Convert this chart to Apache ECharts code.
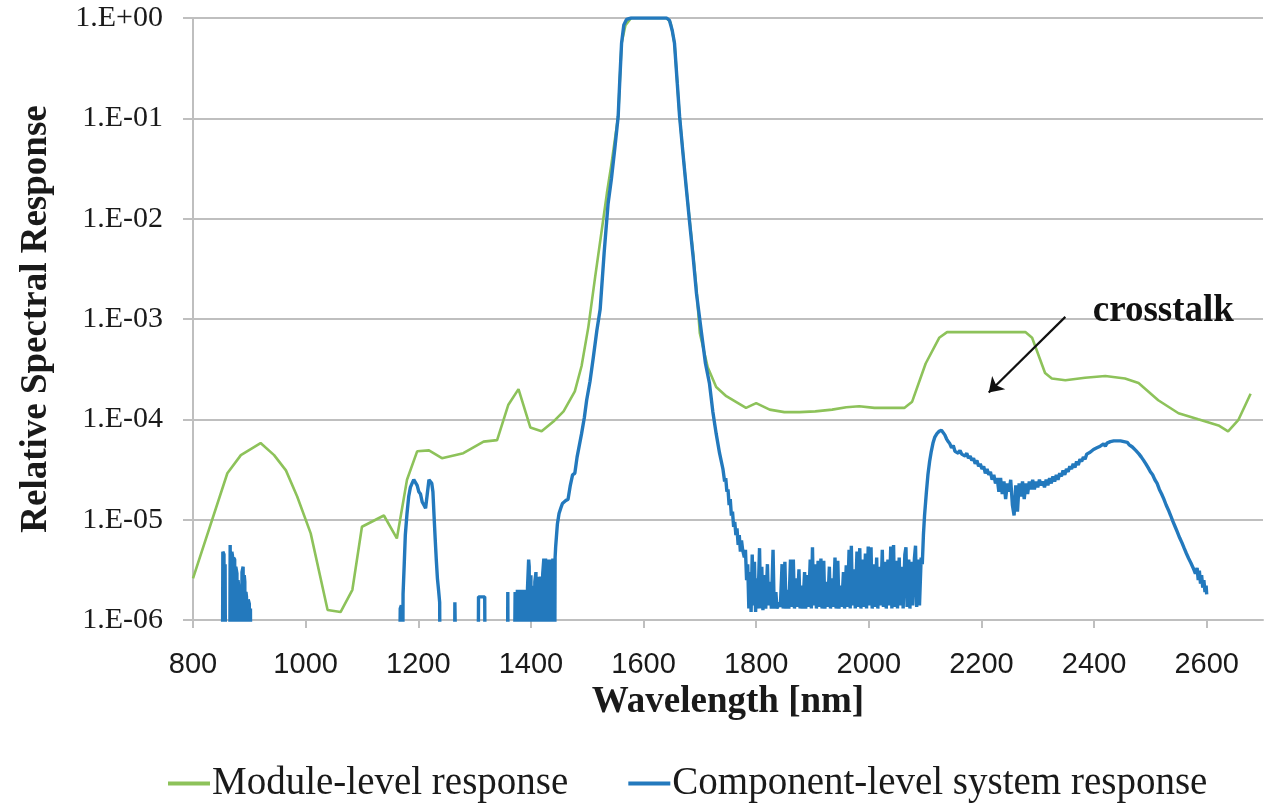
<!DOCTYPE html>
<html>
<head>
<meta charset="utf-8">
<script src="https://cdn.jsdelivr.net/npm/echarts@6/dist/echarts.min.js"></script>
<style>
html,body{margin:0;padding:0;background:#fff;}
#chart{width:1271px;height:808px;}
</style>
</head>
<body>
<div id="chart"></div>
<script>
// ---- data ----
const seriesNames = ['Module-level response', 'Component-level system response'];
const xTicks = [800, 1000, 1200, 1400, 1600, 1800, 2000, 2200, 2400, 2600];
const yTickExponents = [0, -1, -2, -3, -4, -5, -6];

// Module-level response [wavelength nm, relative response]
const moduleLevel = [
[800,2.6e-6],[861,2.9e-5],[885,4.4e-5],[920,5.8e-5],[944,4.4e-5],[965,3.1e-5],[985,1.7e-5],[1009,7.3e-6],
[1039,1.26e-6],[1062,1.2e-6],[1083,2.0e-6],[1100,8.5e-6],[1139,1.1e-5],[1162,6.5e-6],[1180,2.5e-5],[1198,4.8e-5],
[1219,4.9e-5],[1242,4.1e-5],[1280,4.6e-5],[1316,6.0e-5],[1340,6.2e-5],[1360,1.4e-4],[1378,2.0e-4],[1399,8.3e-5],
[1419,7.6e-5],[1440,9.5e-5],[1458,1.2e-4],[1478,1.9e-4],[1490,3.4e-4],[1502,8.3e-4],[1514,2.6e-3],[1526,7.8e-3],
[1535,1.8e-2],[1543,3.5e-2],[1555,1.05e-1],[1561,5.6e-1],[1568,8.5e-1],[1578,1.0],[1641,1.0],[1648,9.0e-1],
[1655,5.6e-1],[1664,1.05e-1],[1676,2.0e-2],[1688,4.5e-3],[1694,2.0e-3],[1700,7.2e-4],[1714,3.3e-4],[1729,2.1e-4],
[1747,1.7e-4],[1782,1.3e-4],[1800,1.45e-4],[1824,1.25e-4],[1850,1.18e-4],[1877,1.18e-4],[1905,1.2e-4],[1935,1.25e-4],
[1960,1.32e-4],[1983,1.35e-4],[2010,1.3e-4],[2040,1.3e-4],[2063,1.3e-4],[2077,1.5e-4],[2101,3.6e-4],[2125,6.5e-4],
[2139,7.4e-4],[2278,7.4e-4],[2290,6.5e-4],[2313,2.9e-4],[2325,2.55e-4],[2349,2.45e-4],[2384,2.6e-4],[2420,2.7e-4],
[2455,2.55e-4],[2479,2.3e-4],[2514,1.55e-4],[2550,1.15e-4],[2585,1.0e-4],[2621,8.7e-5],[2638,7.6e-5],[2656,9.8e-5],
[2678,1.8e-4]
];

// Component-level system response [wavelength nm, relative response]
// values of 1e-7 are below the axis floor (drops to the bottom); null = no data
const componentLevel = [
[852,1e-7],[853,4.8e-6],[855,4.5e-6],[856,1e-7],[857,3.6e-6],[858,1e-7],
[865,1e-7],[866,5.6e-6],[867,5.4e-6],[868,1e-7],[869,4.8e-6],[870,4.4e-6],[871,1e-7],[872,4.2e-6],[874,4.0e-6],
[875,1e-7],[876,3.4e-6],[878,2.9e-6],[879,1e-7],[880,2.5e-6],[881,2.2e-6],[882,1e-7],
[886,1e-7],[887,3.0e-6],[889,3.4e-6],[890,1e-7],[891,2.8e-6],[892,2.4e-6],[893,1e-7],[894,1.9e-6],[895,1.7e-6],
[896,1e-7],[898,1.6e-6],[900,1.45e-6],[901,1e-7],[902,1.3e-6],[903,1e-7],[905,null],
[1166,1e-7],[1168,1.3e-6],[1170,1.4e-6],[1172,1e-7],[1173,1.8e-6],[1175,3.5e-6],[1177,7e-6],[1180,1.15e-5],
[1183,1.7e-5],[1186,2.1e-5],[1189,2.3e-5],[1192,2.5e-5],[1195,2.5e-5],[1198,2.2e-5],[1201,1.9e-5],[1204,1.8e-5],
[1207,1.5e-5],[1210,1.4e-5],[1213,1.3e-5],[1216,1.8e-5],[1219,2.5e-5],[1222,2.5e-5],[1224,2.3e-5],[1226,1.9e-5],
[1228,1.1e-5],[1230,6.5e-6],[1232,4e-6],[1234,2.6e-6],[1236,2.0e-6],[1238,1.5e-6],[1239,1e-7],[1241,null],
[1264,1e-7],[1265,1.5e-6],[1267,1.5e-6],[1268,1e-7],[1269,null],
[1306,1e-7],[1307,1.7e-6],[1318,1.7e-6],[1319,1e-7],[1320,null],
[1358,1e-7],[1359,1.9e-6],[1360,1e-7],[1361,null],
[1370,1e-7],[1372,1.9e-6],[1374,1e-7],[1376,2.0e-6],[1378,2.0e-6],[1379,1e-7],[1381,2.0e-6],[1383,1e-7],
[1385,2.0e-6],[1387,2.0e-6],[1388,1e-7],[1390,2.0e-6],[1392,1e-7],[1394,2.1e-6],[1396,4.0e-6],[1397,3.4e-6],
[1398,1e-7],[1400,2.8e-6],[1401,1e-7],[1403,2.2e-6],[1405,1e-7],[1407,2.4e-6],[1409,3.0e-6],[1410,1e-7],
[1412,2.7e-6],[1414,1e-7],[1416,2.7e-6],[1418,2.5e-6],[1419,1e-7],[1421,2.9e-6],[1423,4.1e-6],[1424,1e-7],
[1426,4.1e-6],[1428,1e-7],[1430,4.0e-6],[1432,4.1e-6],[1433,1e-7],[1435,4.0e-6],[1437,1e-7],[1439,4.1e-6],
[1441,4.0e-6],[1442,1e-7],[1443,4.2e-6],[1444,5.4e-6],[1447,9e-6],[1450,1.15e-5],[1453,1.3e-5],[1456,1.45e-5],
[1459,1.5e-5],[1462,1.55e-5],[1466,1.6e-5],[1470,2.2e-5],[1474,2.8e-5],[1478,2.9e-5],[1482,4.2e-5],[1486,5.5e-5],
[1490,7.2e-5],[1495,1.05e-4],[1499,1.55e-4],[1505,2.4e-4],[1511,4.2e-4],[1517,7.6e-4],[1523,1.25e-3],[1530,4.5e-3],
[1537,1.4e-2],[1543,2.5e-2],[1549,5e-2],[1555,1.05e-1],[1558,2.5e-1],[1561,5.6e-1],[1565,8.5e-1],[1570,9.7e-1],
[1578,1.0],[1641,1.0],[1646,9.5e-1],[1651,7.5e-1],[1655,5.6e-1],[1660,2.2e-1],[1664,1.05e-1],[1670,4.5e-2],
[1676,2.0e-2],[1682,9e-3],[1688,4.2e-3],[1694,1.8e-3],[1703,7.2e-4],[1710,3.6e-4],[1717,2.3e-4],[1723,1.2e-4],
[1729,7.2e-5],[1735,4.6e-5],[1741,3.2e-5],[1744,2.4e-5],[1746,2.6e-5],[1748,1.9e-5],[1750,2.0e-5],[1752,1.4e-5],
[1754,1.6e-5],[1756,1.1e-5],[1758,1.2e-5],[1760,8.5e-6],[1762,9.5e-6],[1764,7.0e-6],[1766,8.2e-6],[1768,5.6e-6],
[1770,7.0e-6],[1772,4.8e-6],[1774,6.2e-6],[1776,5.0e-6],[1779,4.2e-6],[1781,5.0e-6],[1783,2.5e-6],[1785,3.6e-6],
[1787,1.3e-6],[1789,3.0e-6],[1791,1.2e-6],[1793,4.5e-6],[1795,1.4e-6],[1797,3.8e-6],[1799,1.2e-6],[1801,2.6e-6],
[1803,1.3e-6],[1806,5.2e-6],[1808,1.3e-6],[1810,3.4e-6],[1812,1.25e-6],[1815,2.8e-6],[1817,1.3e-6],[1820,3.6e-6],
[1822,1.4e-6],[1825,2.4e-6],[1827,1.3e-6],[1830,5.0e-6],[1832,1.3e-6],[1835,1.9e-6],[1837,1.3e-6],[1840,1.5e-6],
[1843,1.35e-6],[1846,3.6e-6],[1848,1.3e-6],[1851,3.8e-6],[1853,1.3e-6],[1856,2.0e-6],[1858,1.3e-6],[1861,4.0e-6],
[1863,1.35e-6],[1866,4.0e-6],[1868,1.3e-6],[1871,2.6e-6],[1873,1.35e-6],[1876,3.2e-6],[1878,1.3e-6],[1881,2.2e-6],
[1883,1.3e-6],[1886,3.0e-6],[1888,1.3e-6],[1891,2.8e-6],[1893,1.35e-6],[1896,4.0e-6],[1898,1.3e-6],[1900,5.3e-6],
[1902,1.4e-6],[1905,3.6e-6],[1907,1.3e-6],[1910,3.9e-6],[1912,1.35e-6],[1915,4.1e-6],[1917,1.3e-6],[1920,3.9e-6],
[1922,1.3e-6],[1925,2.4e-6],[1927,1.35e-6],[1930,3.4e-6],[1932,1.3e-6],[1935,2.6e-6],[1937,1.35e-6],[1940,4.2e-6],
[1942,1.3e-6],[1945,3.9e-6],[1947,1.3e-6],[1950,2.2e-6],[1952,1.35e-6],[1955,3.0e-6],[1957,1.3e-6],[1960,3.5e-6],
[1962,1.35e-6],[1965,5.0e-6],[1967,1.3e-6],[1969,5.5e-6],[1971,1.4e-6],[1974,3.2e-6],[1976,1.3e-6],[1979,4.8e-6],
[1981,1.35e-6],[1984,5.2e-6],[1986,1.3e-6],[1989,4.0e-6],[1991,1.35e-6],[1994,4.6e-6],[1996,1.3e-6],[1999,5.4e-6],
[2001,1.4e-6],[2004,5.3e-6],[2006,1.3e-6],[2009,3.6e-6],[2011,1.35e-6],[2014,4.2e-6],[2016,1.3e-6],[2019,3.4e-6],
[2021,1.4e-6],[2024,5.0e-6],[2026,1.35e-6],[2029,3.8e-6],[2031,1.3e-6],[2034,4.0e-6],[2036,1.4e-6],[2039,5.4e-6],
[2041,1.3e-6],[2044,5.6e-6],[2046,1.35e-6],[2049,3.9e-6],[2051,1.3e-6],[2054,4.2e-6],[2056,1.4e-6],[2059,3.4e-6],
[2061,1.3e-6],[2064,4.5e-6],[2066,5.3e-6],[2068,1.35e-6],[2071,4.0e-6],[2073,1.3e-6],[2076,3.8e-6],[2078,1.4e-6],
[2081,4.1e-6],[2083,5.5e-6],[2085,1.35e-6],[2088,4.0e-6],[2090,1.4e-6],[2093,4.2e-6],[2095,3.6e-6],[2097,7e-6],
[2099,1.1e-5],[2102,1.8e-5],[2105,2.8e-5],[2108,3.8e-5],[2111,4.8e-5],[2114,5.8e-5],[2117,6.6e-5],[2121,7.2e-5],
[2125,7.6e-5],[2129,7.8e-5],[2132,7.6e-5],[2135,7.0e-5],[2138,6.4e-5],[2141,6.0e-5],[2144,5.7e-5],[2147,5.2e-5],
[2150,5.5e-5],[2153,4.8e-5],[2156,5.0e-5],[2159,4.6e-5],[2162,4.9e-5],[2165,4.5e-5],[2168,4.7e-5],[2171,4.3e-5],
[2174,4.6e-5],[2177,4.1e-5],[2180,4.3e-5],[2183,3.9e-5],[2186,4.1e-5],[2189,3.6e-5],[2192,3.9e-5],[2195,3.4e-5],
[2198,3.6e-5],[2201,3.2e-5],[2204,3.4e-5],[2207,2.9e-5],[2210,3.2e-5],[2213,2.8e-5],[2216,3.0e-5],[2219,2.5e-5],
[2222,2.8e-5],[2225,2.3e-5],[2228,2.6e-5],[2231,1.9e-5],[2234,2.6e-5],[2237,1.8e-5],[2240,2.4e-5],[2243,1.6e-5],
[2246,2.3e-5],[2249,1.9e-5],[2252,2.5e-5],[2255,1.4e-5],[2258,1.1e-5],[2261,2.2e-5],[2264,1.2e-5],[2267,2.3e-5],
[2270,1.7e-5],[2273,2.4e-5],[2276,1.6e-5],[2279,2.3e-5],[2282,1.8e-5],[2285,2.4e-5],[2288,2.0e-5],[2291,2.5e-5],
[2294,2.0e-5],[2297,2.4e-5],[2300,2.1e-5],[2303,2.5e-5],[2306,2.2e-5],[2309,2.4e-5],[2312,2.1e-5],[2315,2.5e-5],
[2318,2.2e-5],[2321,2.6e-5],[2324,2.3e-5],[2327,2.7e-5],[2330,2.4e-5],[2333,2.8e-5],[2336,2.5e-5],[2339,2.9e-5],
[2342,2.7e-5],[2345,3.1e-5],[2348,2.8e-5],[2351,3.2e-5],[2354,3.0e-5],[2357,3.4e-5],[2360,3.2e-5],[2363,3.6e-5],
[2366,3.3e-5],[2369,3.8e-5],[2372,3.5e-5],[2375,4.0e-5],[2378,3.8e-5],[2381,4.2e-5],[2384,4.0e-5],[2387,4.5e-5],
[2390,4.3e-5],[2393,4.7e-5],[2396,4.5e-5],[2399,5.0e-5],[2402,4.8e-5],[2405,5.2e-5],[2408,5.0e-5],[2411,5.4e-5],
[2414,5.3e-5],[2417,5.7e-5],[2420,5.4e-5],[2423,5.8e-5],[2426,5.6e-5],[2429,6.0e-5],[2432,5.8e-5],[2435,6.1e-5],
[2438,5.9e-5],[2441,6.1e-5],[2444,6.0e-5],[2447,6.1e-5],[2450,5.9e-5],[2453,6.0e-5],[2456,5.8e-5],[2459,5.9e-5],
[2462,5.6e-5],[2465,5.6e-5],[2468,5.3e-5],[2471,5.2e-5],[2474,4.9e-5],[2477,4.8e-5],[2480,4.5e-5],[2484,4.2e-5],
[2488,3.9e-5],[2492,3.6e-5],[2496,3.3e-5],[2500,3.0e-5],[2504,2.8e-5],[2508,2.5e-5],[2512,2.3e-5],[2516,2.0e-5],
[2520,1.8e-5],[2524,1.6e-5],[2528,1.4e-5],[2532,1.25e-5],[2536,1.1e-5],[2540,9.6e-6],[2544,8.5e-6],[2548,7.5e-6],
[2552,6.6e-6],[2556,5.9e-6],[2560,5.2e-6],[2564,4.6e-6],[2568,4.1e-6],[2572,3.7e-6],[2576,3.3e-6],[2580,2.9e-6],
[2583,3.3e-6],[2585,2.5e-6],[2587,3.1e-6],[2589,2.3e-6],[2591,2.8e-6],[2593,2.1e-6],[2595,2.5e-6],[2597,1.9e-6],
[2599,2.2e-6],[2600,1.8e-6]
];

// annotation
const annotationText = 'crosstalk';
const annotationPoint = [2523, 1.2e-3];
const arrowFrom = [2349, 1.05e-3];
const arrowTo = [2213, 1.85e-4];

// ---- chart ----
const GRID_COLOR = '#bfbfbf';
const TEXT_COLOR = '#1a1a1a';
const SERIF = '"Liberation Serif", "DejaVu Serif", serif';
const SANS = '"Liberation Sans", "DejaVu Sans", sans-serif';

function fmtExp(v) {
  const e = Math.round(Math.log10(v));
  return '1.E' + (e < 0 ? '-' : '+') + String(Math.abs(e)).padStart(2, '0');
}

const chart = echarts.init(document.getElementById('chart'), null, {renderer: 'canvas'});
chart.setOption({
  animation: false,
  backgroundColor: '#ffffff',
  grid: {left: 193, right: 8, top: 18, bottom: 188, containLabel: false},
  legend: {
    data: seriesNames,
    left: 168,
    top: 764,
    padding: 0,
    icon: 'rect',
    itemWidth: 42,
    itemHeight: 4,
    itemGap: 60,
    textStyle: {fontFamily: SERIF, fontSize: 39, color: TEXT_COLOR, padding: [0, 0, 0, -3]}
  },
  xAxis: {
    type: 'value',
    min: 800,
    max: 2700,
    interval: 200,
    name: 'Wavelength [nm]',
    nameLocation: 'middle',
    nameGap: 61,
    nameTextStyle: {fontFamily: SERIF, fontSize: 37, fontWeight: 'bold', color: TEXT_COLOR},
    axisLine: {show: true, onZero: false, lineStyle: {color: GRID_COLOR, width: 2}},
    axisTick: {show: true, length: 8, lineStyle: {color: GRID_COLOR, width: 2}, customValues: xTicks},
    axisLabel: {
      margin: 30, fontFamily: SANS, fontSize: 29, color: TEXT_COLOR,
      customValues: xTicks,
      formatter: v => (xTicks.indexOf(v) >= 0 ? String(v) : '')
    },
    splitLine: {show: false}
  },
  yAxis: {
    type: 'log',
    logBase: 10,
    min: Math.pow(10, yTickExponents[yTickExponents.length - 1]),
    max: Math.pow(10, yTickExponents[0]),
    name: 'Relative Spectral Response',
    nameLocation: 'middle',
    nameGap: 138,
    nameTextStyle: {fontFamily: SERIF, fontSize: 37, fontWeight: 'bold', color: TEXT_COLOR},
    axisLine: {show: true, lineStyle: {color: GRID_COLOR, width: 2}},
    axisTick: {show: true, length: 10, lineStyle: {color: GRID_COLOR, width: 2}},
    axisLabel: {margin: 30, fontFamily: SERIF, fontSize: 30, color: TEXT_COLOR, formatter: fmtExp},
    splitLine: {show: true, lineStyle: {color: GRID_COLOR, width: 2}},
    minorTick: {show: false},
    minorSplitLine: {show: false}
  },
  series: [
    {
      name: seriesNames[0],
      type: 'line',
      data: moduleLevel,
      showSymbol: false,
      symbol: 'none',
      clip: true,
      color: '#8dc25a',
      lineStyle: {color: '#8dc25a', width: 2.6},
      z: 2,
      markPoint: {
        silent: true,
        symbol: 'circle',
        symbolSize: 1,
        itemStyle: {color: 'rgba(0,0,0,0)'},
        label: {show: true, position: 'inside', formatter: annotationText,
          fontFamily: SERIF, fontSize: 37, fontWeight: 'bold', color: '#111'},
        data: [{coord: annotationPoint}]
      },
      markLine: {
        silent: true,
        symbol: ['none', 'arrow'],
        symbolSize: 14,
        label: {show: false},
        lineStyle: {color: '#111', width: 2.2, type: 'solid'},
        data: [[{coord: arrowFrom}, {coord: arrowTo}]]
      }
    },
    {
      name: seriesNames[1],
      type: 'line',
      data: componentLevel,
      showSymbol: false,
      symbol: 'none',
      clip: true,
      connectNulls: false,
      color: '#2379bd',
      lineStyle: {color: '#2379bd', width: 3.4},
      z: 3
    }
  ]
});
</script>
</body>
</html>
